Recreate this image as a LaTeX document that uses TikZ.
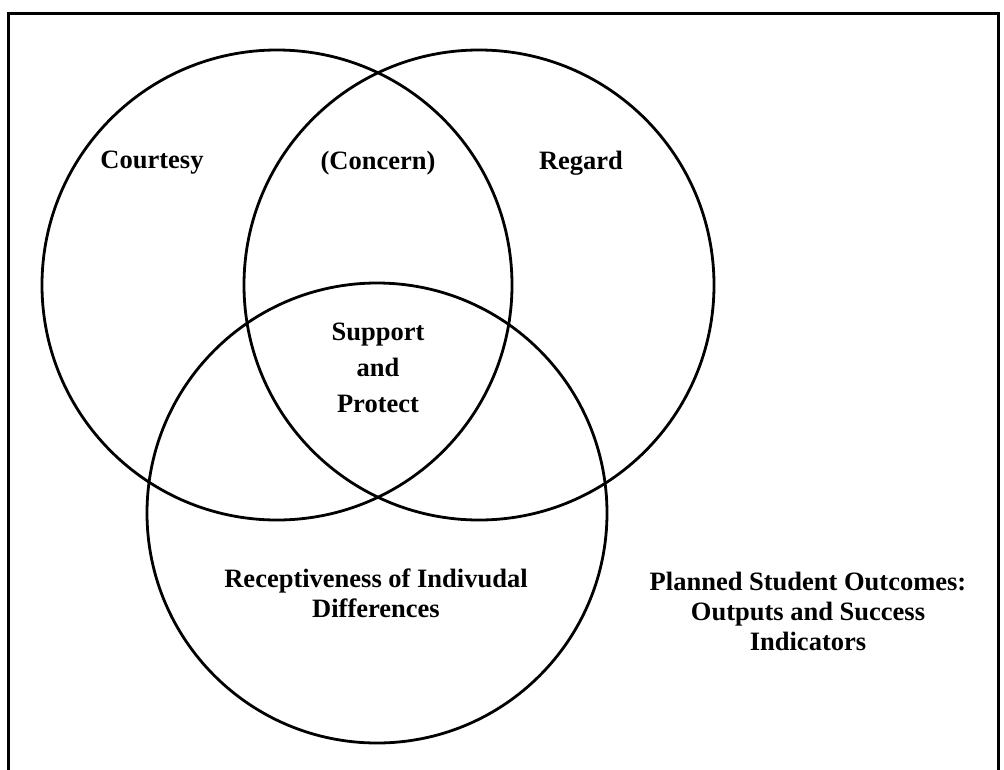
\documentclass[tikz,border=0pt]{standalone}
\usepackage{fontspec}
\setmainfont{Liberation Serif}
\begin{document}
\begin{tikzpicture}[x=1pt,y=-1pt,
  ring/.style={draw=black, line width=2.8pt, circle, inner sep=0pt},
  lbl/.style={font=\fontsize{26.5}{30}\selectfont\bfseries, align=center, inner sep=0pt}]
\useasboundingbox (0,0) rectangle (1004,769);
\fill[white] (0,0) rectangle (1004,769);
% frame
\coordinate (fbl) at (8,772);
\coordinate (ftl) at (8,13);
\coordinate (ftr) at (998,13);
\coordinate (fbr) at (998,772);
\draw[line width=3pt] (fbl) -- (ftl) -- (ftr) -- (fbr);
% circles
\node[ring, minimum size=470pt] (cL) at (277,285) {};
\node[ring, minimum size=470pt] (cR) at (479,285) {};
\node[ring, minimum size=460pt] (cB) at (377,513) {};
% labels
\node[lbl] (courtesy) at (152,163) {Courtesy};
\node[lbl] (concern) at (378,163) {(Concern)};
\node[lbl] (regard) at (581,163) {Regard};
\node[lbl, font=\fontsize{26.5}{36}\selectfont\bfseries] (support) at (378,368) {Support\\and\\Protect};
\node[lbl] (recept) at (376,593) {Receptiveness of Indivudal\\Differences};
\node[lbl] (planned) at (808,611) {Planned Student Outcomes:\\Outputs and Success\\Indicators};
\end{tikzpicture}
\end{document}
